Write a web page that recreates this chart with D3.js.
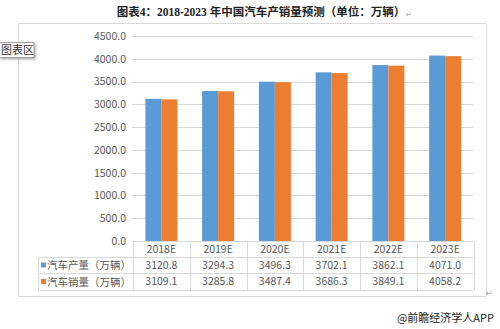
<!DOCTYPE html>
<html><head><meta charset="utf-8">
<script src="https://cdn.jsdelivr.net/npm/d3@7/dist/d3.min.js"></script>
<style>
html,body{margin:0;padding:0;background:#fff;}
svg{display:block;}
</style></head>
<body>
<svg id="c" width="500" height="329"></svg>
<script>
const categories = ["2018E","2019E","2020E","2021E","2022E","2023E"];
const seriesNames = ["汽车产量（万辆）","汽车销量（万辆）"];
const production = [3120.8,3294.3,3496.3,3702.1,3862.1,4071.0];
const sales = [3109.1,3285.8,3487.4,3686.3,3849.1,4058.2];
const yTicks = [0,500,1000,1500,2000,2500,3000,3500,4000,4500];
const colors = ["#5B9BD5","#ED7D31"];
const seriesValues = [production, sales];

(function(){
const svg = d3.select("#c");
const font = "'Microsoft YaHei','Noto Sans CJK SC','Noto Sans',sans-serif";
const gray = "#595959";
const lineC = "#d9d9d9";

// title
svg.append("text").attr("x",261).attr("y",16).attr("text-anchor","middle")
  .attr("font-family","'Liberation Serif','Noto Sans CJK SC',serif").attr("font-weight","bold")
  .attr("font-size",11.5).attr("fill","#222")
  .text("图表4：2018-2023 年中国汽车产销量预测（单位：万辆）");
svg.append("text").attr("x",406).attr("y",17).attr("font-size",7).attr("fill","#999")
  .attr("font-family",font).text("↵");

// outer chart border
svg.append("rect").attr("x",18.5).attr("y",23.5).attr("width",468).attr("height",273)
  .attr("fill","none").attr("stroke","#d9d9d9").attr("stroke-width",1);

const pL = 133, pR = 473.5, pT = 36, pB = 241;
const y = d3.scaleLinear().domain([0,4500]).range([pB, pT]);
const x = d3.scaleBand().domain(categories).range([pL,pR]).paddingInner(0.436).paddingOuter(0.218);
const xs = d3.scaleBand().domain(d3.range(seriesValues.length)).range([0, x.bandwidth()]);
const col = d3.scaleBand().domain(categories).range([pL,pR]).padding(0);

// gridlines
svg.append("g").selectAll("line").data(yTicks.filter(d=>d>0)).join("line")
  .attr("x1",pL-1).attr("x2",pR).attr("y1",d=>Math.round(y(d))+0.5).attr("y2",d=>Math.round(y(d))+0.5)
  .attr("stroke",lineC).attr("stroke-width",1);

// y axis labels
const yAxis = d3.axisLeft(y).tickValues(yTicks).tickFormat(d3.format(".1f")).tickSize(0).tickPadding(0);
const gy = svg.append("g").attr("transform",`translate(${pL-7},0)`).call(yAxis);
gy.select(".domain").remove();
gy.selectAll("text").attr("font-family",font).attr("font-size",10.5).attr("fill",gray);

// bars
seriesValues.forEach((vals,si)=>{
  svg.append("g").selectAll("rect").data(vals).join("rect")
    .attr("x",(d,i)=>x(categories[i])+xs(si))
    .attr("width",xs.bandwidth())
    .attr("y",d=>y(d))
    .attr("height",d=>y(0)-y(d))
    .attr("fill",colors[si]);
});

// data table
const rowY = [241,257,273,290];
const tLeft = 38;
const tg = svg.append("g");
tg.append("line").attr("x1",pL).attr("x2",pR).attr("y1",rowY[0]+0.5).attr("y2",rowY[0]+0.5).attr("stroke",lineC);
[1,2,3].forEach(r=>{
  tg.append("line").attr("x1",tLeft).attr("x2",pR).attr("y1",rowY[r]+0.5).attr("y2",rowY[r]+0.5).attr("stroke",lineC);
});
tg.append("line").attr("x1",tLeft+0.5).attr("x2",tLeft+0.5).attr("y1",rowY[1]).attr("y2",rowY[3]).attr("stroke",lineC);
const bounds = categories.map(c=>col(c)).concat([pR]);
tg.selectAll("line.v").data(bounds).join("line").attr("class","v")
  .attr("x1",d=>Math.round(d)+0.5).attr("x2",d=>Math.round(d)+0.5)
  .attr("y1",rowY[0]).attr("y2",rowY[3]).attr("stroke",lineC);

// header
tg.selectAll("text.h").data(categories).join("text").attr("class","h")
  .attr("x",d=>col(d)+col.bandwidth()/2).attr("y",(rowY[0]+rowY[1])/2+3.8)
  .attr("text-anchor","middle").attr("font-family",font).attr("font-size",10.5).attr("fill",gray).text(d=>d);

seriesValues.forEach((vals,si)=>{
  const cy = (rowY[si+1]+rowY[si+2])/2;
  tg.selectAll("text.v"+si).data(vals).join("text").attr("class","v"+si)
    .attr("x",(d,i)=>col(categories[i])+col.bandwidth()/2).attr("y",cy+3.8)
    .attr("text-anchor","middle").attr("font-family",font).attr("font-size",10.5).attr("fill",gray)
    .text(d=>d3.format(".1f")(d));
  tg.append("rect").attr("x",tLeft+3).attr("y",cy-2.5).attr("width",5).attr("height",5).attr("fill",colors[si]);
  tg.append("text").attr("x",tLeft+9).attr("y",cy+4).attr("font-family",font).attr("font-size",10.5)
    .attr("fill",gray).text(seriesNames[si]);
});

// chart-area tooltip
const defs = svg.append("defs");
const f = defs.append("filter").attr("id","sh").attr("x","-20%").attr("y","-20%").attr("width","150%").attr("height","160%");
f.append("feDropShadow").attr("dx",1.5).attr("dy",1.5).attr("stdDeviation",1).attr("flood-color","#000").attr("flood-opacity",0.3);
svg.append("rect").attr("x",-1).attr("y",42.5).attr("width",35).attr("height",15).attr("fill","#fff")
  .attr("stroke","#888").attr("stroke-width",0.8).attr("filter","url(#sh)");
svg.append("text").attr("x",1).attr("y",54).attr("font-family",font).attr("font-size",11).attr("fill","#333").text("图表区");

// return mark and source
svg.append("text").attr("x",486).attr("y",296).attr("font-size",8).attr("fill","#999").attr("font-family",font).text("↵");
svg.append("text").attr("x",494).attr("y",322).attr("text-anchor","end").attr("font-family",font)
  .attr("font-size",11).attr("fill","#222").text("@前瞻经济学人APP");
})();
</script>
</body></html>
